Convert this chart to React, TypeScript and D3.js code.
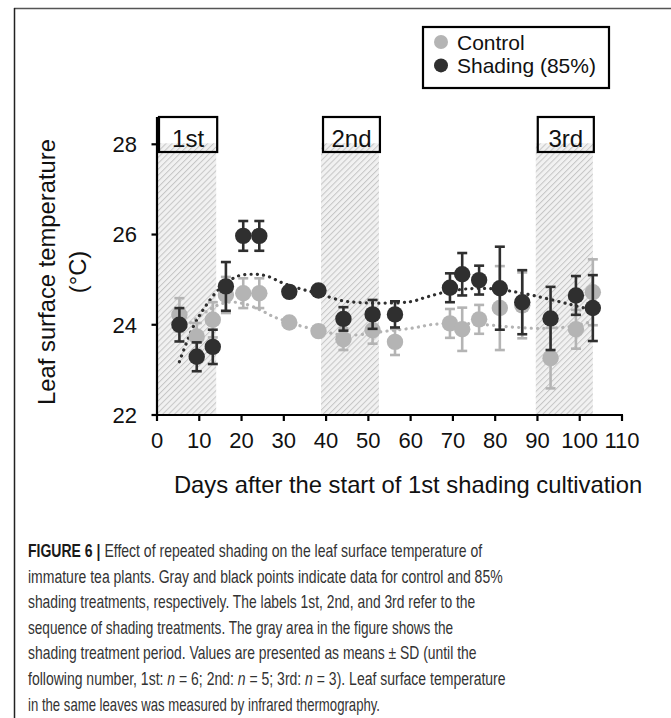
import React, { useLayoutEffect, useRef, useState } from "react";
import * as d3 from "d3";

const days = [5.3, 9.4, 13.2, 16.3, 20.4, 24.2, 31.3, 38.2, 44.1, 51.0, 56.3, 69.3, 72.2, 76.2, 81.1, 86.4, 93.1, 99.1, 103.1];
const controlMean = [24.22, 23.74, 24.11, 24.66, 24.7, 24.7, 24.05, 23.86, 23.68, 23.88, 23.62, 24.03, 23.9, 24.12, 24.37, 24.43, 23.26, 23.9, 24.72];
const controlSD = [0.37, 0.3, 0.39, 0.4, 0.33, 0.33, 0.1, 0.08, 0.24, 0.3, 0.29, 0.32, 0.48, 0.32, 0.93, 0.73, 0.67, 0.43, 0.73];
const shadingMean = [24.0, 23.29, 23.51, 24.85, 25.97, 25.97, 24.73, 24.76, 24.13, 24.23, 24.23, 24.82, 25.12, 24.99, 24.81, 24.5, 24.14, 24.65, 24.37];
const shadingSD = [0.37, 0.32, 0.38, 0.54, 0.33, 0.33, 0.1, 0.08, 0.26, 0.32, 0.29, 0.32, 0.47, 0.32, 0.92, 0.71, 0.7, 0.43, 0.73];

const shadingTrendDays = [5.3, 8.6, 11.4, 14.9, 18.9, 22.8, 26, 29.9, 33.8, 37.8, 44, 48.5, 53.4, 59.9, 64, 68.5, 74, 79, 84, 89, 95.3, 99, 103];
const shadingTrendVals = [23.18, 23.96, 24.4, 24.81, 25.07, 25.12, 25.08, 24.92, 24.8, 24.7, 24.53, 24.49, 24.48, 24.51, 24.62, 24.73, 24.8, 24.8, 24.74, 24.65, 24.51, 24.42, 24.33];
const controlTrendDays = [5.8, 8, 11, 14, 17, 20.4, 24.4, 27.5, 29.9, 33, 38.2, 44, 50, 53.4, 60, 65.5, 72, 78, 84, 90, 96, 100, 103];
const controlTrendVals = [23.85, 24.05, 24.25, 24.42, 24.5, 24.47, 24.33, 24.18, 24.1, 24.0, 23.88, 23.77, 23.8, 23.85, 23.92, 24.01, 24.03, 24.0, 23.95, 23.92, 23.94, 24.0, 24.08];

const periodLabels = ["1st", "2nd", "3rd"];
const periodStart = [0, 38.8, 89.6];
const periodEnd = [14, 52.5, 103.1];

const xTicks = [0, 10, 20, 30, 40, 50, 60, 70, 80, 90, 100, 110];
const yTicks = [22, 24, 26, 28];

const legendLabels = ["Control", "Shading (85%)"];

// caption: each line is a list of [text, style] parts; style: "b" bold, "i" italic, "" normal
const captionLines: [string, string][][] = [
  [["FIGURE 6 | ", "b"], ["Effect of repeated shading on the leaf surface temperature of", ""]],
  [["immature tea plants. Gray and black points indicate data for control and 85%", ""]],
  [["shading treatments, respectively. The labels 1st, 2nd, and 3rd refer to the", ""]],
  [["sequence of shading treatments. The gray area in the figure shows the", ""]],
  [["shading treatment period. Values are presented as means ± SD (until the", ""]],
  [
    ["following number, 1st: ", ""],
    ["n", "i"],
    [" = 6; 2nd: ", ""],
    ["n", "i"],
    [" = 5; 3rd: ", ""],
    ["n", "i"],
    [" = 3). Leaf surface temperature", ""],
  ],
  [["in the same leaves was measured by infrared thermography.", ""]],
];
const captionTargetWidths = [454, 474, 447, 425, 448, 477, 352];

const GRAY = "#b4b4b4";
const DARK = "#2f2f2f";
const FONT = "'Liberation Sans', Arial, Helvetica, sans-serif";
const CAP_SIZE = 18;

export default function App() {
  const x = d3.scaleLinear().domain([0, 110]).range([157, 622]);
  const y = d3.scaleLinear().domain([22, 28]).range([415, 144.3]);
  const line = d3
    .line<[number, number]>()
    .x((d) => x(d[0]))
    .y((d) => y(d[1]))
    .curve(d3.curveCatmullRom.alpha(0.5));

  const shTrend = shadingTrendDays.map((d, i) => [d, shadingTrendVals[i]] as [number, number]);
  const coTrend = controlTrendDays.map((d, i) => [d, controlTrendVals[i]] as [number, number]);

  const series = [
    { mean: controlMean, sd: controlSD, color: GRAY },
    { mean: shadingMean, sd: shadingSD, color: DARK },
  ];

  const boxTop = 117;
  const boxBottom = 152;
  const capW = 5;

  const capBase = 557;
  const capStep = 25.6;

  const capRefs = useRef<(SVGTextElement | null)[]>([]);
  const [sx, setSx] = useState<number[]>(captionLines.map(() => 0.75));
  const [measured, setMeasured] = useState(false);

  useLayoutEffect(() => {
    if (measured) return;
    const next = captionLines.map((_, i) => {
      const el = capRefs.current[i];
      if (!el) return 0.75;
      const w = el.getComputedTextLength();
      return w > 0 ? captionTargetWidths[i] / w : 0.75;
    });
    setSx(next);
    setMeasured(true);
  }, [measured]);

  return (
    <svg
      width={671}
      height={718}
      style={{ position: "absolute", left: 0, top: 0, background: "#fff" }}
      fontFamily={FONT}
    >
      <defs>
        <pattern id="hatch" width={4.2} height={4.2} patternUnits="userSpaceOnUse" patternTransform="rotate(45)">
          <rect width={4.2} height={4.2} fill="#f1f1f1" />
          <line x1={0} y1={0} x2={0} y2={4.2} stroke="#c6c6c6" strokeWidth={2} />
        </pattern>
      </defs>
      <rect x={0} y={0} width={671} height={718} fill="#fff" />
      {/* frame */}
      <line x1={14} y1={8.5} x2={671} y2={8.5} stroke="#555" strokeWidth={1.5} />
      <line x1={14.5} y1={8} x2={14.5} y2={718} stroke="#222" strokeWidth={1.5} />

      {/* shading periods */}
      {periodStart.map((s, i) => (
        <rect
          key={"p" + i}
          x={x(s)}
          y={y(28) - 1}
          width={x(periodEnd[i]) - x(s)}
          height={y(22) - y(28) + 1}
          fill="url(#hatch)"
        />
      ))}
      {periodStart.map((s, i) => (
        <g key={"b" + i}>
          <rect
            x={x(s) + 2}
            y={boxTop}
            width={x(periodEnd[i]) - x(s) - 1}
            height={boxBottom - boxTop}
            fill="none"
            stroke="#000"
            strokeWidth={2.2}
          />
          <text
            x={x(s) + 2 + (x(periodEnd[i]) - x(s) - 1) / 2}
            y={147}
            textAnchor="middle"
            fontSize={24}
            fill="#111"
          >
            {periodLabels[i]}
          </text>
        </g>
      ))}

      {/* axes */}
      <line x1={157} y1={boxTop} x2={157} y2={416} stroke="#000" strokeWidth={2.2} />
      {yTicks.map((t) => (
        <g key={"y" + t}>
          <line x1={151.5} x2={157} y1={y(t)} y2={y(t)} stroke="#000" strokeWidth={2.2} />
          <text x={137} y={y(t)} dy="0.36em" textAnchor="end" fontSize={22} fill="#111">
            {t}
          </text>
        </g>
      ))}
      <line x1={156} y1={415} x2={x(110) + 1} y2={415} stroke="#000" strokeWidth={2.2} />
      {xTicks.map((t) => (
        <g key={"x" + t}>
          <line x1={x(t)} x2={x(t)} y1={415} y2={421} stroke="#000" strokeWidth={2.2} />
          <text x={x(t)} y={448} textAnchor="middle" fontSize={22} fill="#111">
            {t}
          </text>
        </g>
      ))}
      <text x={408} y={493} textAnchor="middle" fontSize={23.8} fill="#111">
        Days after the start of 1st shading cultivation
      </text>
      <g transform="translate(55,272) rotate(-90)">
        <text x={0} y={0} textAnchor="middle" fontSize={23.8} fill="#111">
          Leaf surface temperature
        </text>
        <text x={0} y={31} textAnchor="middle" fontSize={23.8} fill="#111">
          (°C)
        </text>
      </g>

      {/* trend lines */}
      <path d={line(coTrend) || ""} fill="none" stroke={GRAY} strokeWidth={3.2} strokeLinecap="round" strokeDasharray="0.1 6.2" />
      <path d={line(shTrend) || ""} fill="none" stroke={DARK} strokeWidth={3.2} strokeLinecap="round" strokeDasharray="0.1 6.2" />

      {/* points */}
      {series.map((s, si) => (
        <g key={"s" + si}>
          {days.map((d, i) => (
            <g key={i} stroke={s.color} strokeWidth={2.6}>
              <line x1={x(d)} x2={x(d)} y1={y(s.mean[i] - s.sd[i])} y2={y(s.mean[i] + s.sd[i])} />
              <line x1={x(d) - capW} x2={x(d) + capW} y1={y(s.mean[i] + s.sd[i])} y2={y(s.mean[i] + s.sd[i])} />
              <line x1={x(d) - capW} x2={x(d) + capW} y1={y(s.mean[i] - s.sd[i])} y2={y(s.mean[i] - s.sd[i])} />
            </g>
          ))}
          {days.map((d, i) => (
            <circle key={"c" + i} cx={x(d)} cy={y(s.mean[i])} r={8.2} fill={s.color} />
          ))}
        </g>
      ))}

      {/* legend */}
      <rect x={423} y={27} width={186} height={61} fill="#fff" stroke="#000" strokeWidth={2.2} />
      {legendLabels.map((l, i) => (
        <g key={"l" + i}>
          <circle cx={441} cy={42 + i * 23.4} r={7} fill={i === 0 ? GRAY : DARK} />
          <text x={457} y={42 + i * 23.4} dy="0.36em" fontSize={21} fill="#111">
            {l}
          </text>
        </g>
      ))}

      {/* caption */}
      <g fontSize={CAP_SIZE} fill="#333">
        {captionLines.map((parts, i) => (
          <g key={"cl" + i} transform={`translate(28,${capBase + capStep * i}) scale(${sx[i]},1)`}>
            <text
              ref={(el) => {
                capRefs.current[i] = el;
              }}
              x={0}
              y={0}
              style={{ whiteSpace: "pre" }}
            >
              {parts.map(([t, st], j) => (
                <tspan
                  key={j}
                  fontWeight={st === "b" ? "bold" : "normal"}
                  fontStyle={st === "i" ? "italic" : "normal"}
                  fill={st === "b" ? "#1a1a1a" : "#333"}
                >
                  {t}
                </tspan>
              ))}
            </text>
          </g>
        ))}
      </g>
    </svg>
  );
}
